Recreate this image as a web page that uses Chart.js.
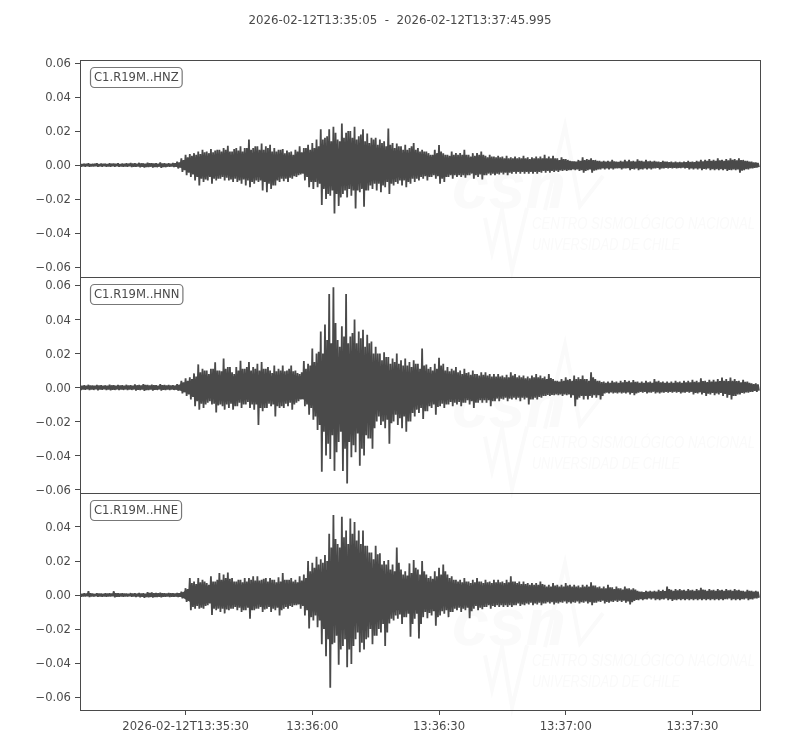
<!DOCTYPE html>
<html>
<head>
<meta charset="utf-8">
<script src="https://cdn.jsdelivr.net/npm/chart.js@4"></script>
<style>
  html, body { margin: 0; padding: 0; background: #fff; }
  canvas { display: block; }
</style>
</head>
<body>
<canvas id="seismo" width="800" height="750"></canvas>
<script>
// amplitudes are in 1e-3 units, main upper + lower peak per second of trace
let hnzUpper = [
  1,0.8,1,0.7,1,0.9,0.8,1.1,0.9,1,
  0.9,1,1.2,1,1.3,1,1.4,1.1,1,1.5,
  1,1.1,1.2,2,4,6,6.5,7,8,9,
  8,9.5,8.5,9,10,11.4,8,10,11,10,
  15,10,11,12.7,11,12,10,9,9.5,8.5,
  8,9,11,10,12,13,15,21,16,21,
  22.5,15,24.5,19,20,22.5,17,21,18.6,16,
  16,15,14,21.5,13,12.7,11,12,10,13,
  10,9,8,6,9,11.8,7,6,8,7,
  7,9,6,7,7,8,5.5,6,5,5.5,
  5,5.5,4.5,5,4.5,5.5,4.5,4.5,5,5,
  6,5,5.5,4,4.5,3.5,2.5,2,3,4.5,
  3.5,4,3,2.5,2.5,2.5,3,2,2.5,3,
  3,2.5,3.3,2.5,3,2.5,2.5,2,2.5,2,
  2,2,1.8,2,2.5,2,2.5,3,3,3.5,
  3,4,3,3.5,4,3.5,4,3,2.5,2,1.5
];
let hnzLower = [
  -1,-0.9,-1,-0.8,-1,-0.9,-1,-1,-0.9,-1,
  -1,-1,-1.2,-1,-1.3,-1.5,-1.2,-1.5,-1.2,-1.6,
  -1.2,-1,-1.2,-2,-4,-6,-7,-9,-12,-10,
  -9,-11,-9,-8,-9,-9,-10,-10,-11,-12,
  -13,-11,-10,-15,-16,-14,-12,-10,-9.5,-10,
  -8,-7,-5.5,-9,-13,-14,-13,-23.5,-20,-18,
  -28.5,-24,-17,-19,-18,-25.5,-16,-24.5,-15,-14,
  -15,-16,-13,-17,-12,-11,-12,-13,-11,-10,
  -9,-8,-9,-7,-8,-11,-10,-7,-8,-7,
  -7,-7.5,-6,-8,-7,-8.4,-6,-6,-6,-5.5,
  -5.5,-6,-5,-5,-5,-5,-5,-5,-5,-4.5,
  -4.5,-4.5,-4,-4,-3.5,-3.5,-3,-3,-3.5,-4.5,
  -3,-4.5,-3,-2.5,-2.5,-2.5,-2.5,-2,-2.5,-2,
  -3,-2.5,-3,-2.5,-2.5,-2.5,-2,-2.5,-2,-2,
  -2,-2,-1.8,-2,-2.5,-2.5,-2.5,-3,-2.5,-3,
  -3,-3,-3,-3.5,-3,-3,-4.5,-3,-2.5,-2,-1.5
];
let hnnUpper = [
  1.5,1.3,1.6,1.2,1.5,1.4,1.3,1.7,1.3,1.5,
  1.4,1.6,1.3,1.8,1.5,2,1.6,1.7,1.4,2,
  1.5,1.5,1.4,2,4,5.4,6,8.3,13.6,11,
  10,11,14.8,10,17,12,9,12,15.8,11,
  15,12,14,15,11,10,13,11,13,10,
  13,10,8,15.6,14,23,20,33,37,55,
  59,28,36,55,30,40,33,34,31,27,
  24,20,20.7,18,17,20,16,17,15,16,
  14,23,13.6,12,14,17.5,14,12,11,12,
  10,11,9,10,8,9,9,8,8,8,
  7,7.5,9,8,7,7,6.5,7,8,7,
  6.5,8,5,4,5,6,5,7,6,7,
  5,9,5,4,3.5,3.5,4,3.5,4,4.4,
  4,4.4,3.5,3.5,4,3.5,5,4,3.5,3.5,
  3.5,4,3.5,4,4,4.5,4,5.4,4,4.5,
  4.5,5,5.8,5,5.8,5,4,4.5,3.5,2.5,2.5
];
let hnnLower = [
  -1.5,-1.3,-1.5,-1.4,-1.6,-1.3,-1.5,-1.7,-1.4,-1.5,
  -1.4,-1.5,-1.4,-1.8,-1.5,-2,-1.5,-1.8,-1.4,-1.8,
  -1.5,-1.5,-1.4,-1.8,-3.5,-5,-7,-11,-13,-12,
  -9,-10,-14.6,-10,-13,-12,-13,-11,-12,-10,
  -12,-13,-22,-14,-12,-11,-17,-12,-12,-11,
  -13,-9,-7,-11,-16,-19,-25,-49.5,-40,-42,
  -49,-32,-49,-56.4,-41,-38,-46,-40,-30,-36,
  -20,-22,-24,-33,-20,-22,-24,-26,-20,-17,
  -15,-18.5,-14,-12,-16,-11,-12,-10,-11,-10,
  -11,-9,-10,-12,-9,-9,-9,-11,-8,-8,
  -7,-8,-7,-7,-8,-7,-10,-7,-7,-6,
  -5,-5,-4.5,-4.5,-5,-4.5,-6,-11,-6,-7,
  -7,-6,-6,-7,-3.5,-3.5,-3.5,-3.5,-3.5,-3.5,
  -4,-4.5,-3,-3,-3.5,-3,-3.5,-3.5,-3,-3,
  -3,-3,-3.5,-3,-3,-4,-3.5,-4,-5,-4,
  -4.5,-4,-5,-6,-7,-5,-4,-3.5,-3,-2.5,-2.5
];
let hneUpper = [
  0.9,1,2.2,0.8,1,0.9,1,1,2.2,1,
  1,0.9,1.1,1,1.2,1,1.6,1.5,1.2,1.4,
  1,1.2,1,1.2,2,4,10,8,10,9,
  7,11,8,13,12,13.3,10,8,9,10,
  10,11,11,9,10,10,9,10.5,13,9,
  10,9,11,12,20,19,22.5,21,23.5,36,
  47,30,46,38,45,43,38,38,29,25,
  29,24.5,20,20.6,18,28,15,14,18.6,20.6,
  15,20,12,11,14,16,18,12,11,9,
  9,10,8,9,10,8,9,8,9,9,
  8,9,11,8,8,8,7,7,7,8,
  6,6,7,6,6,7,6,6,5.5,6,
  6,7.5,5.5,5,5,6,4.5,5,4,5,
  4,4,2.5,2,2.5,2.5,2.5,3,3,5,
  3,3.5,3.5,3,3.5,3,3.5,4.3,3,3.5,
  3,3.5,3,3.5,3,3.5,3,2.5,3,2.5,2.5
];
let hneLower = [
  -1,-0.9,-1.2,-0.9,-1,-1,-1,-0.9,-1.3,-1,
  -1,-0.9,-1,-1.1,-1.3,-1.6,-1.4,-1.5,-1.2,-1.3,
  -1,-1.2,-1,-1.2,-2,-4,-9,-8,-8,-8,
  -6,-11.8,-9,-10,-10.8,-9,-8,-9,-10,-9,
  -14,-9,-8,-10,-8,-10,-9,-12,-8,-8,
  -7,-6,-8,-12,-19.6,-15,-19,-29,-36,-54.5,
  -28,-41,-30,-42.5,-40.6,-26,-33.7,-32,-25,-29,
  -24,-22,-30,-16.7,-15,-14,-17,-13,-24.5,-14,
  -25.5,-13,-13.7,-12,-18,-12,-11,-13,-10,-9,
  -10,-9,-13.7,-8,-9,-8.4,-7,-8,-7,-7,
  -7,-7,-7,-6,-6.5,-6,-5.5,-6,-5.5,-6,
  -5,-5,-5.5,-5,-4.5,-5,-5,-4.5,-5,-4.5,
  -5,-6,-4.5,-4,-5,-4.5,-4,-4,-4,-4.5,
  -5.5,-3.5,-3,-3,-2.5,-2.5,-3,-3,-2.5,-3,
  -3.5,-3,-3,-3,-3,-3,-3,-3,-3,-3,
  -3,-3,-3,-2.5,-3,-3,-3,-2.5,-3,-2.5,-2
];

// smaller wiggles that sit between the main peaks, half a second later
let hnzMidUpper = [
  0.6,0.7,0.5,0.8,0.6,0.7,0.6,0.8,0.7,0.6,
  0.7,0.8,0.9,0.8,1,0.8,1,0.9,0.8,0.9,
  0.8,0.8,1,1.5,3,4.5,5.5,6,6.5,7.5,
  7,7.5,9,8,9,8,9.5,8.5,8,10,
  9,11,9,9,10,8,8,9,7,7.5,
  6,8,7.5,10,9,10,11,15,17,14,
  19,14,16,20,16,15,18,14,13,15,
  12,13,11,12,10,11,9,9,11,9,
  8,8,7,6,7,8,6,5.5,6,6,
  6,6,5,5.5,6,6,4.5,5,4.5,4.5,
  4,4,4,4,4,4,3.5,4,4,4,
  4,4,4,3,3.5,3,2,1.8,2.5,3,
  3,3,2.5,2,2,2,2.2,1.8,2,2.2,
  2.2,2,2.5,2,2.2,2,2,1.7,2,1.7,
  1.6,1.6,1.5,1.7,1.8,1.7,2,2.2,2.4,2.5,
  2.5,2.8,2.5,2.8,3,2.8,3,2.5,2,1.6,1.2
];
let hnzMidLower = [
  -0.7,-0.6,-0.8,-0.6,-0.7,-0.7,-0.8,-0.7,-0.7,-0.8,
  -0.8,-0.7,-0.9,-0.8,-1,-1.1,-0.9,-1.1,-0.9,-1.1,
  -0.9,-0.8,-1,-1.5,-3,-4.5,-5.5,-7,-8,-8.5,
  -7,-8,-8,-7,-7.5,-8.5,-8,-9,-8.5,-9,
  -10,-9,-9,-10,-11,-12,-9,-8,-8,-7.5,
  -6.5,-6,-5,-7,-10,-10,-11,-14,-17,-15,
  -17,-19,-15,-14,-15,-15,-14,-15,-12,-11,
  -11,-12,-10,-11,-10,-9,-9,-10,-8,-8,
  -7,-6.5,-7,-6,-6.5,-8,-7,-6,-6,-6,
  -6,-6,-5,-6,-5.5,-6,-5,-5,-5,-4.5,
  -4.5,-4.5,-4,-4,-4,-4,-4,-4,-4,-3.5,
  -3.5,-3.5,-3.3,-3.2,-3,-3,-2.5,-2.5,-3,-3.5,
  -2.5,-3.3,-2.5,-2,-2,-2,-2,-1.8,-2,-1.8,
  -2.3,-2,-2.4,-2,-2,-2,-1.7,-2,-1.7,-1.7,
  -1.6,-1.7,-1.5,-1.7,-2,-2,-2,-2.3,-2,-2.4,
  -2.4,-2.4,-2.4,-2.8,-2.5,-2.5,-3.3,-2.4,-2,-1.6,-1.2
];
let hnnMidUpper = [
  1,1.1,1.2,1,1.2,1,1.1,1.3,1,1.2,
  1.1,1.2,1.1,1.3,1.2,1.5,1.2,1.4,1.1,1.4,
  1.2,1.2,1.1,1.5,3,4,5,6.5,9,10,
  8,11,10,9.5,11,12,8,10,11,12,
  10,11,10,11,12,8.5,9.5,10,9.5,11,
  9.5,8.5,9,11,13,15,21,20,28,26,
  38,24,30,26,32,26,29,24,26,20,
  20,16,18,14,15,14,13,13,12,14,
  11,13,11,10,11,13,10,9.5,10,9,
  8,8.5,7.5,8,7,7.5,7,6.5,6.5,6.5,
  6,6,7,6,6,5.5,5.5,6,6,5.5,
  5,5.5,4,3.5,4,4.5,4,5,5,5,
  4,6,4,3.2,2.8,2.8,3,2.8,3,3.3,
  3,3.3,2.8,2.8,3,2.8,3.5,3,2.8,2.8,
  2.8,3,2.8,3,3,3.3,3,3.8,3.2,3.5,
  3.5,3.8,4,3.8,4,3.8,3,3.3,2.8,2,1.8
];
let hnnMidLower = [
  -1.1,-1,-1.2,-1,-1.2,-1,-1.2,-1.3,-1.1,-1.2,
  -1.1,-1.2,-1.1,-1.4,-1.2,-1.5,-1.2,-1.4,-1.1,-1.4,
  -1.2,-1.2,-1.1,-1.4,-2.8,-4,-5.5,-8,-9.5,-10,
  -8,-9.5,-10.5,-11,-10,-9.5,-11,-9,-10,-8.5,
  -10,-10,-12,-12,-9.5,-10,-11,-11,-9.5,-9,
  -10,-8,-6,-10,-12,-17,-22,-26,-33,-28,
  -38,-26,-36,-32,-34,-27,-36,-28,-30,-24,
  -17,-20,-19,-21,-16,-18,-17,-20,-15,-13,
  -12,-14,-11,-10,-11.5,-9.5,-10,-8.5,-9,-8.5,
  -9,-7.5,-8,-9,-7.5,-7.5,-7.5,-8,-6.5,-6.5,
  -6,-6.5,-6,-6,-6,-6,-7,-6,-5.5,-5,
  -4.3,-4.3,-4,-4,-4,-4,-4.5,-7,-5,-5,
  -5,-4.5,-4.5,-5,-3,-2.8,-3,-2.8,-3,-2.8,
  -3.2,-3.5,-2.6,-2.6,-2.8,-2.5,-2.8,-2.8,-2.5,-2.5,
  -2.5,-2.5,-2.8,-2.5,-2.5,-3.2,-2.8,-3.2,-3.6,-3.2,
  -3.5,-3.2,-3.8,-4.3,-5,-4,-3.2,-2.8,-2.5,-2,-1.8
];
let hneMidUpper = [
  0.7,0.8,1,0.6,0.8,0.7,0.8,0.8,1,0.8,
  0.8,0.7,0.9,0.8,0.9,0.8,1.2,1.1,1,1.1,
  0.8,1,0.8,1,1.5,3.5,7,6.5,7.5,8,
  6,8,9,9,10,9.5,8,9,7.5,8,
  9,8.5,8.5,9.5,8,9,7.5,8,9,9,
  8,7.5,8.5,10,14,16,18,19,20,28,
  33,28,34,30,36,32,30,29,25,21,
  24,18,18,15,14,19,12,11.5,13,16,
  12,14,10,9.5,11,12,14,10,9,8,
  7.5,8,7,7.5,8,7,7.5,7,7.5,7.5,
  7,7.5,8,7,6.5,6.5,6,6,6,6.5,
  5,5,5.5,5,5,5.5,5,5,4.5,5,
  5,5.5,4.5,4,4,4.5,3.5,4,3.2,3.8,
  3.2,3.2,2,1.7,2,2,2,2.3,2.3,3.5,
  2.4,2.7,2.7,2.4,2.7,2.4,2.7,3.2,2.4,2.7,
  2.4,2.7,2.4,2.7,2.4,2.7,2.4,2,2.4,2,2
];
let hneMidLower = [
  -0.8,-0.7,-0.9,-0.7,-0.8,-0.8,-0.8,-0.7,-1,-0.8,
  -0.8,-0.7,-0.8,-0.9,-1,-1.2,-1.1,-1.1,-1,-1,
  -0.8,-1,-0.8,-1,-1.5,-3.5,-7,-6.5,-7.5,-6.5,
  -5,-8,-8,-8,-8.5,-8,-7,-7.5,-9,-7.5,
  -9,-8,-7,-8.5,-7,-8,-7.5,-9,-7,-6.5,
  -6,-5.5,-6.5,-9,-13,-12,-15,-20,-26,-29,
  -24,-32,-26,-32,-30,-22,-28,-26,-20,-24,
  -20,-17,-22,-14,-12,-11.5,-13,-11,-17,-11,
  -17,-10,-10.5,-9.5,-13,-9.5,-9,-10,-8,-7.5,
  -8,-7.5,-9.5,-6.5,-7.5,-7,-6,-6.5,-6,-6,
  -6,-6,-6,-5,-5.5,-5,-4.5,-5,-4.5,-5,
  -4.2,-4.2,-4.5,-4.2,-3.8,-4.2,-4.2,-3.8,-4.2,-3.8,
  -4.2,-4.5,-3.8,-3.3,-4,-3.8,-3.3,-3.3,-3.3,-3.7,
  -4.2,-2.8,-2.4,-2.4,-2,-2,-2.4,-2.4,-2,-2.4,
  -2.7,-2.4,-2.4,-2.4,-2.4,-2.4,-2.4,-2.4,-2.4,-2.4,
  -2.4,-2.4,-2.4,-2,-2.4,-2.4,-2.4,-2,-2.4,-2,-1.6
];

// solid inner part of each trace, where the wiggles overlap completely
let coreTimes = [0,22,24,26,30,35,40,45,50,53,56,60,65,70,75,80,85,90,95,100,110,120,125,130,140,150,160];
let hnzCoreUpper = [0.5,0.5,1.5,3.5,5,5.5,6,5.5,4,5,7,9.5,10,8,6,5.5,4.5,4,3,3,2.5,2,1.5,1.5,1.2,1.5,1];
let hnzCoreLower = [-0.5,-0.5,-1.5,-3.5,-5,-5.5,-6,-5.5,-4,-5,-7,-10,-9,-8,-6,-4.5,-4.5,-4,-3,-3,-2.5,-2,-1.5,-1.5,-1.2,-1.5,-1];
let hnnCoreUpper = [0.8,0.8,2,3.5,5.5,6.5,7,6.5,6,7,12,18,17,12,9,8,7,5.5,5,4.5,3.5,2.5,2,2,2,2.5,1.3];
let hnnCoreLower = [-0.8,-0.8,-2,-3.5,-5.5,-6.5,-7,-6.5,-6,-7,-12,-20,-20,-12,-11,-8,-7,-6,-5,-4.5,-3,-2.5,-2,-2,-2,-2.5,-1.3];
let hneCoreUpper = [0.5,0.5,1.2,4,5,5.5,5.5,5.5,5.5,6,10,18,18,12,9,8,7,5.5,5,4.5,3.5,3,2.5,1.5,1.8,1.8,1.3];
let hneCoreLower = [-0.5,-0.5,-1.2,-4,-4.5,-5,-5,-5,-4.5,-5.5,-10,-17,-17,-11,-9,-7,-6,-5,-4.5,-4,-3,-2.5,-2,-1.7,-1.7,-1.7,-1.2];

let yTicks = [-0.06,-0.04,-0.02,0,0.02,0.04,0.06];
let xTicks = [25,55,85,115,145];
let xTickLabels = ['2026-02-12T13:35:30','13:36:00','13:36:30','13:37:00','13:37:30'];
let traceNames = ['C1.R19M..HNZ','C1.R19M..HNN','C1.R19M..HNE'];
let plotTitle = '2026-02-12T13:35:05  -  2026-02-12T13:37:45.995';
let traceEnd = 160.995;

let ink = '#4a4a4a';
let font = 'DejaVu Sans';
let fontSize = 11.6;

// up and down through each second, as the plotted waveform does
let zigzag = (upper, lower, midUpper, midLower) => {
  let pts = [];
  upper.forEach((v, i) => {
    pts.push({ x: i, y: v / 1000 });
    pts.push({ x: i + 0.25, y: lower[i] / 1000 });
    pts.push({ x: i + 0.5, y: midUpper[i] / 1000 });
    pts.push({ x: i + 0.75, y: midLower[i] / 1000 });
  });
  return pts;
};
let band = (values) => values.map((v, i) => ({ x: coreTimes[i], y: v / 1000 }));

let traceSets = (axis, upper, lower, midUpper, midLower, coreUpper, coreLower) => [
  { yAxisID: axis, data: zigzag(upper, lower, midUpper, midLower), borderColor: ink, borderWidth: 1.8, borderJoinStyle: 'bevel', pointRadius: 0, tension: 0, fill: false },
  { yAxisID: axis, data: band(coreUpper), borderWidth: 0, pointRadius: 0, tension: 0, backgroundColor: ink, fill: '+1' },
  { yAxisID: axis, data: band(coreLower), borderWidth: 0, pointRadius: 0, tension: 0, fill: false },
];

let yAxis = (min, max, weight) => ({
  type: 'linear',
  position: 'left',
  stack: 'traces',
  stackWeight: 1,
  weight: weight,
  min: min,
  max: max,
  border: { display: false },
  grid: { drawOnChartArea: false, tickLength: 5, tickColor: ink, tickWidth: 1 },
  ticks: {
    color: ink,
    padding: 4,
    labelOffset: 1,
    font: { family: font, size: fontSize },
    callback: (v) => (v < 0 ? '\u2212' : '') + Math.abs(v).toFixed(2),
  },
  afterBuildTicks: (scale) => {
    scale.ticks = yTicks.filter(v => v >= min && v <= max).map(v => ({ value: v }));
  },
  afterFit: (scale) => { scale.width = 80; },
});

// faint station logo behind every trace, frame and station label in front
let decorations = {
  id: 'decorations',
  beforeDatasetsDraw(chart) {
    let ctx = chart.ctx;
    ['yz', 'yn', 'ye'].forEach((id, n) => {
      let top = chart.scales[id].top + [0, 2, 4][n];
      ctx.save();
      ctx.fillStyle = '#fafafa';
      ctx.strokeStyle = '#fafafa';
      ctx.font = 'italic bold 66px "Liberation Sans"';
      ctx.fillText('csn', 452, top + 148);
      ctx.lineWidth = 4;
      ctx.lineJoin = 'miter';
      ctx.beginPath();
      ctx.moveTo(545, top + 150);
      ctx.lineTo(565, top + 66);
      ctx.lineTo(580, top + 146);
      ctx.lineTo(603, top + 116);
      ctx.stroke();
      ctx.beginPath();
      ctx.moveTo(485, top + 158);
      ctx.lineTo(492, top + 192);
      ctx.lineTo(502, top + 150);
      ctx.lineTo(512, top + 210);
      ctx.lineTo(527, top + 148);
      ctx.stroke();
      ctx.font = 'italic 17px "Liberation Sans"';
      ctx.fillText('CENTRO SISMOL\u00d3GICO NACIONAL', 532, top + 169, 223);
      ctx.fillText('UNIVERSIDAD DE CHILE', 532, top + 190, 148);
      ctx.restore();
    });
  },
  afterDatasetsDraw(chart) {
    let ctx = chart.ctx;
    let area = chart.chartArea;
    ['yz', 'yn', 'ye'].forEach((id, n) => {
      let scale = chart.scales[id];
      let top = Math.round(scale.top);
      ctx.save();
      ctx.strokeStyle = ink;
      ctx.lineWidth = 1;
      ctx.strokeRect(Math.round(area.left) + 0.5, top + 0.5,
        Math.round(area.right - area.left), Math.round(scale.bottom) - top);
      ctx.font = fontSize + 'px "' + font + '"';
      let w = ctx.measureText(traceNames[n]).width;
      let bx = area.left + 10.5, by = top + 7.5;
      ctx.beginPath();
      ctx.roundRect(bx, by, w + 7, 20, 4);
      ctx.fillStyle = '#fff';
      ctx.fill();
      ctx.strokeStyle = '#777';
      ctx.lineWidth = 1.2;
      ctx.stroke();
      ctx.fillStyle = ink;
      ctx.textBaseline = 'middle';
      ctx.fillText(traceNames[n], bx + 3.5, by + 10.5);
      ctx.restore();
    });
  },
};

new Chart(document.getElementById('seismo'), {
  type: 'line',
  plugins: [decorations],
  data: {
    datasets: [
      ...traceSets('yz', hnzUpper, hnzLower, hnzMidUpper, hnzMidLower, hnzCoreUpper, hnzCoreLower),
      ...traceSets('yn', hnnUpper, hnnLower, hnnMidUpper, hnnMidLower, hnnCoreUpper, hnnCoreLower),
      ...traceSets('ye', hneUpper, hneLower, hneMidUpper, hneMidLower, hneCoreUpper, hneCoreLower),
    ],
  },
  options: {
    responsive: false,
    animation: false,
    devicePixelRatio: 1,
    plugins: {
      legend: { display: false },
      tooltip: { enabled: false },
      title: {
        display: true,
        text: plotTitle,
        color: ink,
        font: { family: font, size: 11.8, weight: 'normal', lineHeight: 1.2 },
        padding: { top: 14, bottom: 31.8 },
      },
    },
    scales: {
      x: {
        type: 'linear',
        min: 0,
        max: traceEnd,
        border: { display: false },
        grid: { drawOnChartArea: false, tickLength: 5, tickColor: ink, tickWidth: 1 },
        ticks: {
          color: ink,
          padding: 5,
          maxRotation: 0,
          autoSkip: false,
          font: { family: font, size: fontSize },
          callback: (v) => xTickLabels[xTicks.indexOf(v)],
        },
        afterBuildTicks: (scale) => { scale.ticks = xTicks.map(v => ({ value: v })); },
        afterFit: (scale) => { scale.height = 40; },
      },
      yz: yAxis(-0.0656, 0.0618, 3),
      yn: yAxis(-0.0622, 0.0652, 2),
      ye: yAxis(-0.0676, 0.0598, 1),
      // empty axis that holds the right margin, so the title stays centred on the page
      rightGap: {
        type: 'linear',
        position: 'right',
        display: true,
        border: { display: false },
        grid: { display: false },
        ticks: { display: false },
        afterFit: (scale) => { scale.width = 40; },
      },
    },
  },
});
</script>
</body>
</html>
